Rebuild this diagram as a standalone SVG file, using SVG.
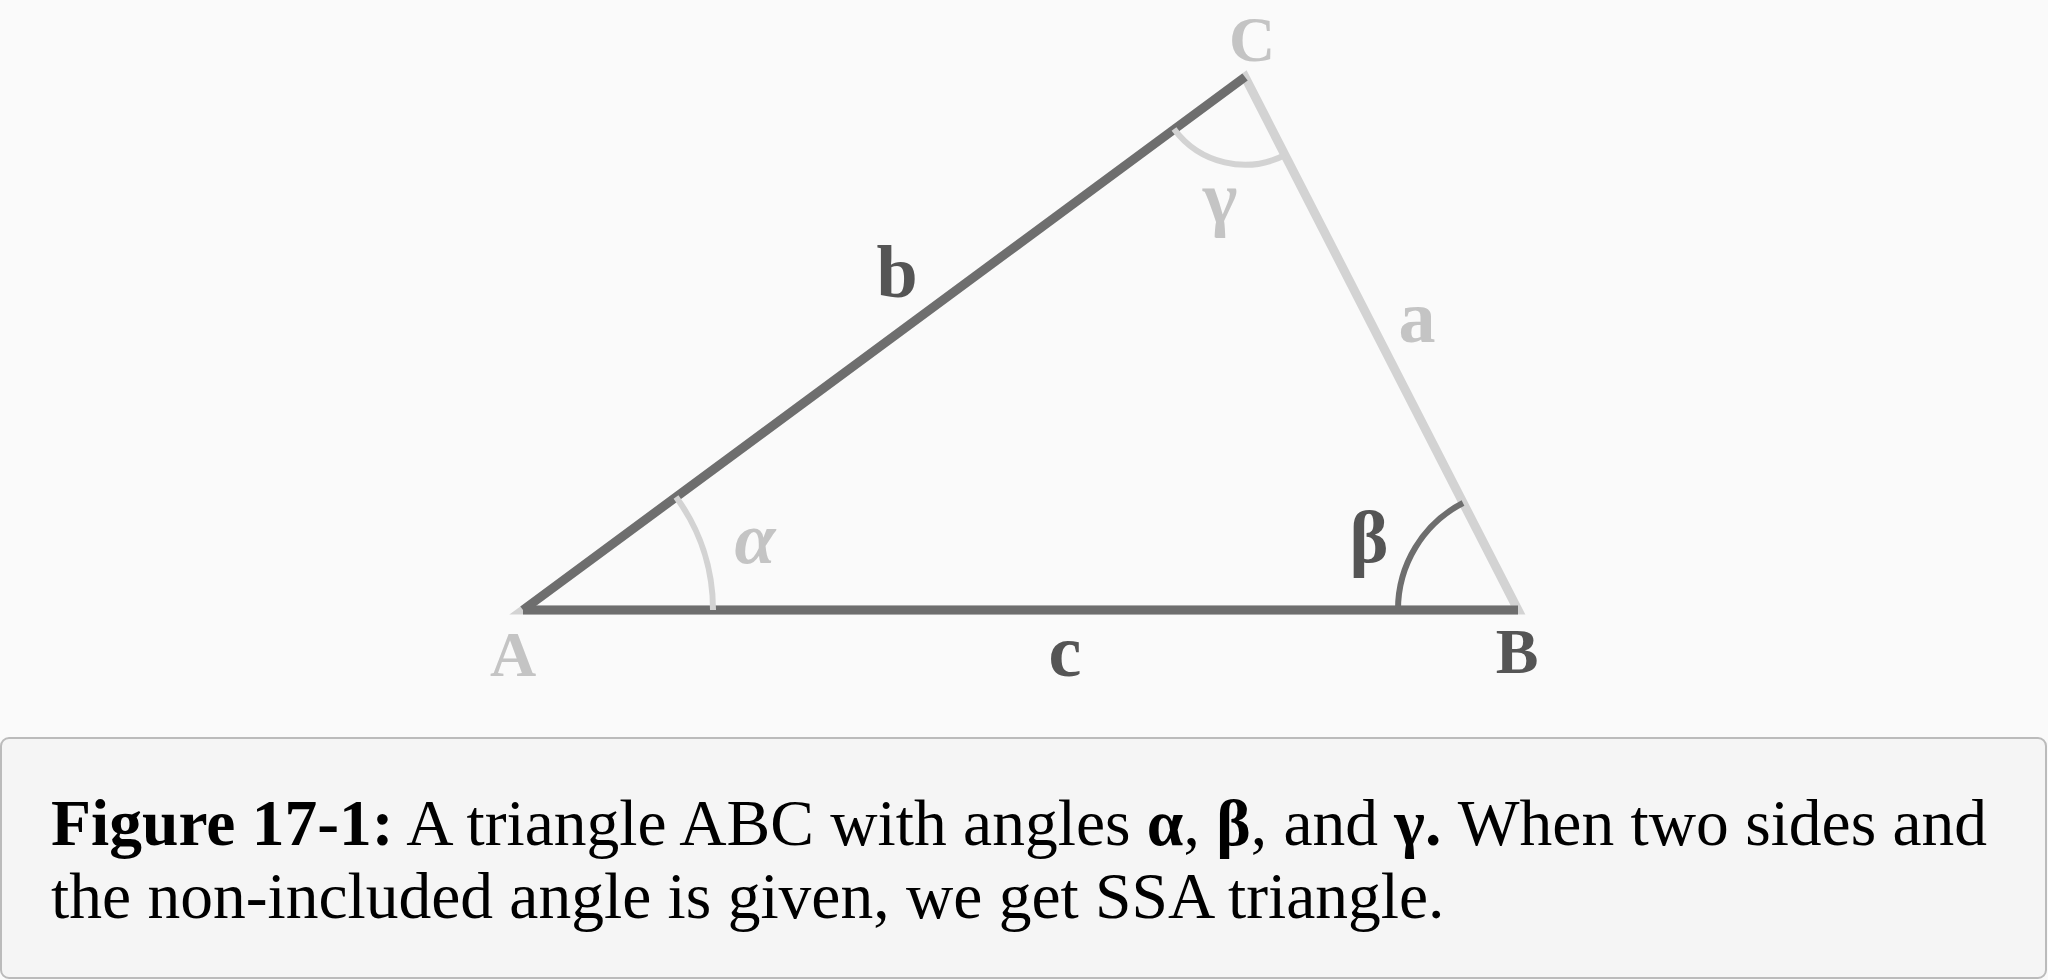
<svg xmlns="http://www.w3.org/2000/svg" width="2048" height="980" viewBox="0 0 2048 980">
<style>
.lbl{font-family:"Liberation Serif","Times New Roman",serif;font-weight:bold;text-anchor:middle}
.vtx{font-size:64px}
.side{font-size:74px}
.dk{fill:#555555}
.lt{fill:#c4c4c4}
.cap{font-family:"Liberation Serif","Times New Roman",serif;font-size:65.5px;fill:#000}
</style>
<rect width="2048" height="980" fill="#fafafa"/>
<g id="connectors" fill="none">
  <polygon points="523,610 1245,77 1518,610" stroke="#d3d3d3" stroke-width="9" stroke-linejoin="miter"/>
  <line x1="523" y1="610" x2="1245" y2="77" stroke="#6e6e6e" stroke-width="9"/>
  <line x1="523" y1="610" x2="1518" y2="610" stroke="#6e6e6e" stroke-width="9"/>
  <path d="M 676 497 A 190 190 0 0 1 713 610" stroke="#d3d3d3" stroke-width="6"/>
  <path d="M 1463 503 A 120 120 0 0 0 1398 610" stroke="#6e6e6e" stroke-width="6"/>
  <path d="M 1174 129 A 88 88 0 0 0 1285 155" stroke="#d3d3d3" stroke-width="6"/>
</g>
<g id="A"><text class="lbl vtx lt" x="513" y="676">A</text></g>
<g id="B"><text class="lbl vtx dk" x="1517" y="673">B</text></g>
<g id="C"><text class="lbl vtx lt" x="1252" y="61">C</text></g>
<g id="side-a"><text class="lbl side lt" x="1417" y="342">a</text></g>
<g id="side-b"><text class="lbl side dk" x="897" y="297">b</text></g>
<g id="side-c"><text class="lbl side dk" x="1065" y="676">c</text></g>
<g id="alpha"><text class="lbl side lt" x="755" y="563" font-style="italic">α</text></g>
<g id="beta"><text class="lbl side dk" x="1369" y="562">β</text></g>
<g id="gamma"><text class="lbl side lt" x="1220" y="222">γ</text></g>
<g id="caption">
  <rect x="1" y="738" width="2045" height="240" rx="8" fill="#f5f5f5" stroke="#bbbbbb" stroke-width="2"/>
  <text class="cap" x="51" y="845"><tspan font-weight="bold">Figure 17-1:</tspan> A triangle ABC with angles <tspan font-weight="bold">α</tspan>, <tspan font-weight="bold">β</tspan>, and <tspan font-weight="bold">γ.</tspan> When two sides and</text>
  <text class="cap" x="51" y="918">the non-included angle is given, we get SSA triangle.</text>
</g>
</svg>
